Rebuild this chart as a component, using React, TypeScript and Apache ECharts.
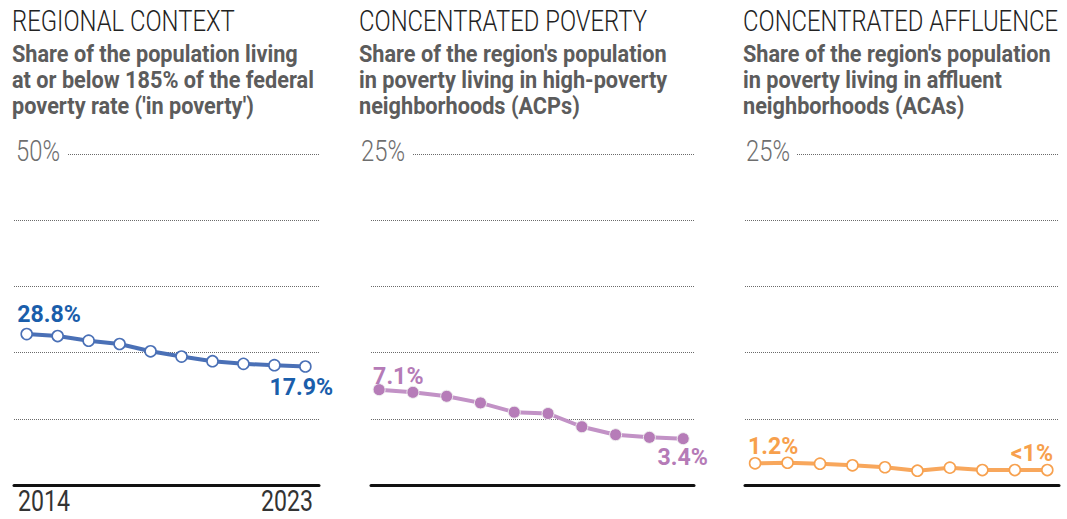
import React, { useEffect, useRef } from "react";
import * as echarts from "echarts";

// ---- data ----
const years = [2014, 2015, 2016, 2017, 2018, 2019, 2020, 2021, 2022, 2023];
const regionalShare = [22.8, 22.5, 21.8, 21.3, 20.2, 19.4, 18.7, 18.3, 18.1, 17.9];
const acpShare = [7.2, 7.0, 6.7, 6.2, 5.5, 5.4, 4.4, 3.8, 3.6, 3.5];
const acaShare = [1.64, 1.68, 1.61, 1.49, 1.34, 1.08, 1.31, 1.13, 1.13, 1.13];

const panelTitles = ["REGIONAL CONTEXT", "CONCENTRATED POVERTY", "CONCENTRATED AFFLUENCE"];
const panelSubtitles = [
  ["Share of the population living", "at or below 185% of the federal", "poverty rate ('in poverty')"],
  ["Share of the region's population", "in poverty living in high-poverty", "neighborhoods (ACPs)"],
  ["Share of the region's population", "in poverty living in affluent", "neighborhoods (ACAs)"],
];
const yMaxValues = [50, 25, 25];
const yIntervals = [10, 5, 5];
const yMaxLabels = ["50%", "25%", "25%"];
const startLabels = ["28.8%", "7.1%", "1.2%"];
const endLabels = ["17.9%", "3.4%", "<1%"];
const yearTickLabels = ["2014", "2023"];

// ---- layout / style ----
const GRID_TOP = 154;
const GRID_HEIGHT = 331;
const panels = [
  { left: 14, width: 305, xMin: 2013.59, xMax: 2023.44, textX: 12, tickX: 16, line: "#4a70b6", marker: "#4a70b6", fillMarker: false, label: "#1a5eab",
    startOff: [-9.4, -20], endOff: [27.7, 20] },
  { left: 371, width: 323, xMin: 2013.76, xMax: 2023.32, textX: 359, tickX: 361, line: "#c292c6", marker: "#b67cb8", fillMarker: true, label: "#b57bb7",
    startOff: [-6, -14], endOff: [24.7, 18] },
  { left: 745, width: 314, xMin: 2013.69, xMax: 2023.36, textX: 743, tickX: 746, line: "#f8a75c", marker: "#f7a14f", fillMarker: false, label: "#f7a04c",
    startOff: [-7, -17.5], endOff: [5.7, -17.5] },
];
const seriesData = [regionalShare, acpShare, acaShare];
const FONT = "Roboto";

export default function App() {
  const ref = useRef<HTMLDivElement>(null);
  useEffect(() => {
    const el = ref.current!;
    const chart = echarts.init(el, null, { renderer: "svg" });
    const ctx = document.createElement("canvas").getContext("2d")!;
    const fit = (text: string, font: string, target: number) => {
      ctx.font = font;
      const w = ctx.measureText(text).width;
      return w > 0 ? target / w : 1;
    };
    const sTitle = fit(panelTitles[0], `300 30px ${FONT}`, 223);
    const sSub = fit(panelSubtitles[0][0], `bold 24.5px ${FONT}`, 286);
    const sTick = fit(yMaxLabels[0], `300 30px ${FONT}`, 44);
    const sVal = fit(startLabels[0], `bold 24.5px ${FONT}`, 63.7);
    const sYear = fit(yearTickLabels[0], `400 29px ${FONT}`, 52);

    chart.setOption({
      animation: false,
      grid: panels.map((p) => ({ left: p.left, width: p.width, top: GRID_TOP, height: GRID_HEIGHT })),
      xAxis: panels.map((p, i) => ({
        type: "value", gridIndex: i, min: p.xMin, max: p.xMax,
        axisLine: { show: true, lineStyle: { color: "#111", width: 3 } },
        axisTick: { show: false }, axisLabel: { show: false }, splitLine: { show: false },
      })),
      yAxis: panels.map((p, i) => ({
        type: "value", gridIndex: i, min: 0, max: yMaxValues[i], interval: yIntervals[i],
        axisLine: { show: false }, axisTick: { show: false }, axisLabel: { show: false },
        splitLine: { show: true, showMinLine: false, lineStyle: { color: "#6a6a6a", width: 1, type: [1, 1] } },
      })),
      series: panels.map((p, i) => ({
        type: "line", xAxisIndex: i, yAxisIndex: i,
        data: years.map((y, k) => [y, seriesData[i][k]]),
        lineStyle: { color: p.line, width: 4 },
        symbol: "circle", symbolSize: p.fillMarker ? 12 : 11, showSymbol: true,
        itemStyle: p.fillMarker
          ? { color: p.marker, borderColor: "#eee", borderWidth: 1 }
          : { color: "#fff", borderColor: p.marker, borderWidth: 1.6 },
        z: 5,
      })),
    });

    const graphic: any[] = [];
    const txt = (text: string, x: number, y: number, size: number, weight: any, fill: string, sx: number, align = "left") => ({
      type: "text", x, y, scaleX: sx, z: 100,
      style: { text, fontFamily: FONT, fontSize: size, fontWeight: weight, fill, align, verticalAlign: "middle", textAlign: align, textVerticalAlign: "middle" },
    });
    panels.forEach((p, i) => {
      graphic.push(txt(panelTitles[i], p.textX, 20.9, 30, 300, "#222", sTitle));
      panelSubtitles[i].forEach((line, j) => {
        graphic.push(txt(line, p.textX, 54.3 + j * 26, 24.5, "bold", "#5c5c5c", sSub));
      });
      graphic.push({ type: "rect", z: 99, shape: { x: p.left - 2, y: 138, width: p.tickX + 51 - (p.left - 2), height: 26 }, style: { fill: "#fff" } });
      graphic.push(txt(yMaxLabels[i], p.tickX, 150.8, 30, 300, "#6e6e6e", sTick));
      const d = seriesData[i];
      const a = chart.convertToPixel({ seriesIndex: i }, [years[0], d[0]]) as number[];
      const b = chart.convertToPixel({ seriesIndex: i }, [years[years.length - 1], d[d.length - 1]]) as number[];
      graphic.push(txt(startLabels[i], a[0] + p.startOff[0], a[1] + p.startOff[1], 24.5, "bold", p.label, sVal));
      graphic.push(txt(endLabels[i], b[0] + p.endOff[0], b[1] + p.endOff[1], 24.5, "bold", p.label, sVal, "right"));
    });
    graphic.push(txt(yearTickLabels[0], 18, 501, 29, 400, "#333", sYear));
    graphic.push(txt(yearTickLabels[1], 313, 501, 29, 400, "#333", sYear, "right"));
    chart.setOption({ graphic });

    return () => chart.dispose();
  }, []);
  return <div ref={ref} style={{ position: "absolute", left: 0, top: 0, width: 1067, height: 519 }} />;
}
